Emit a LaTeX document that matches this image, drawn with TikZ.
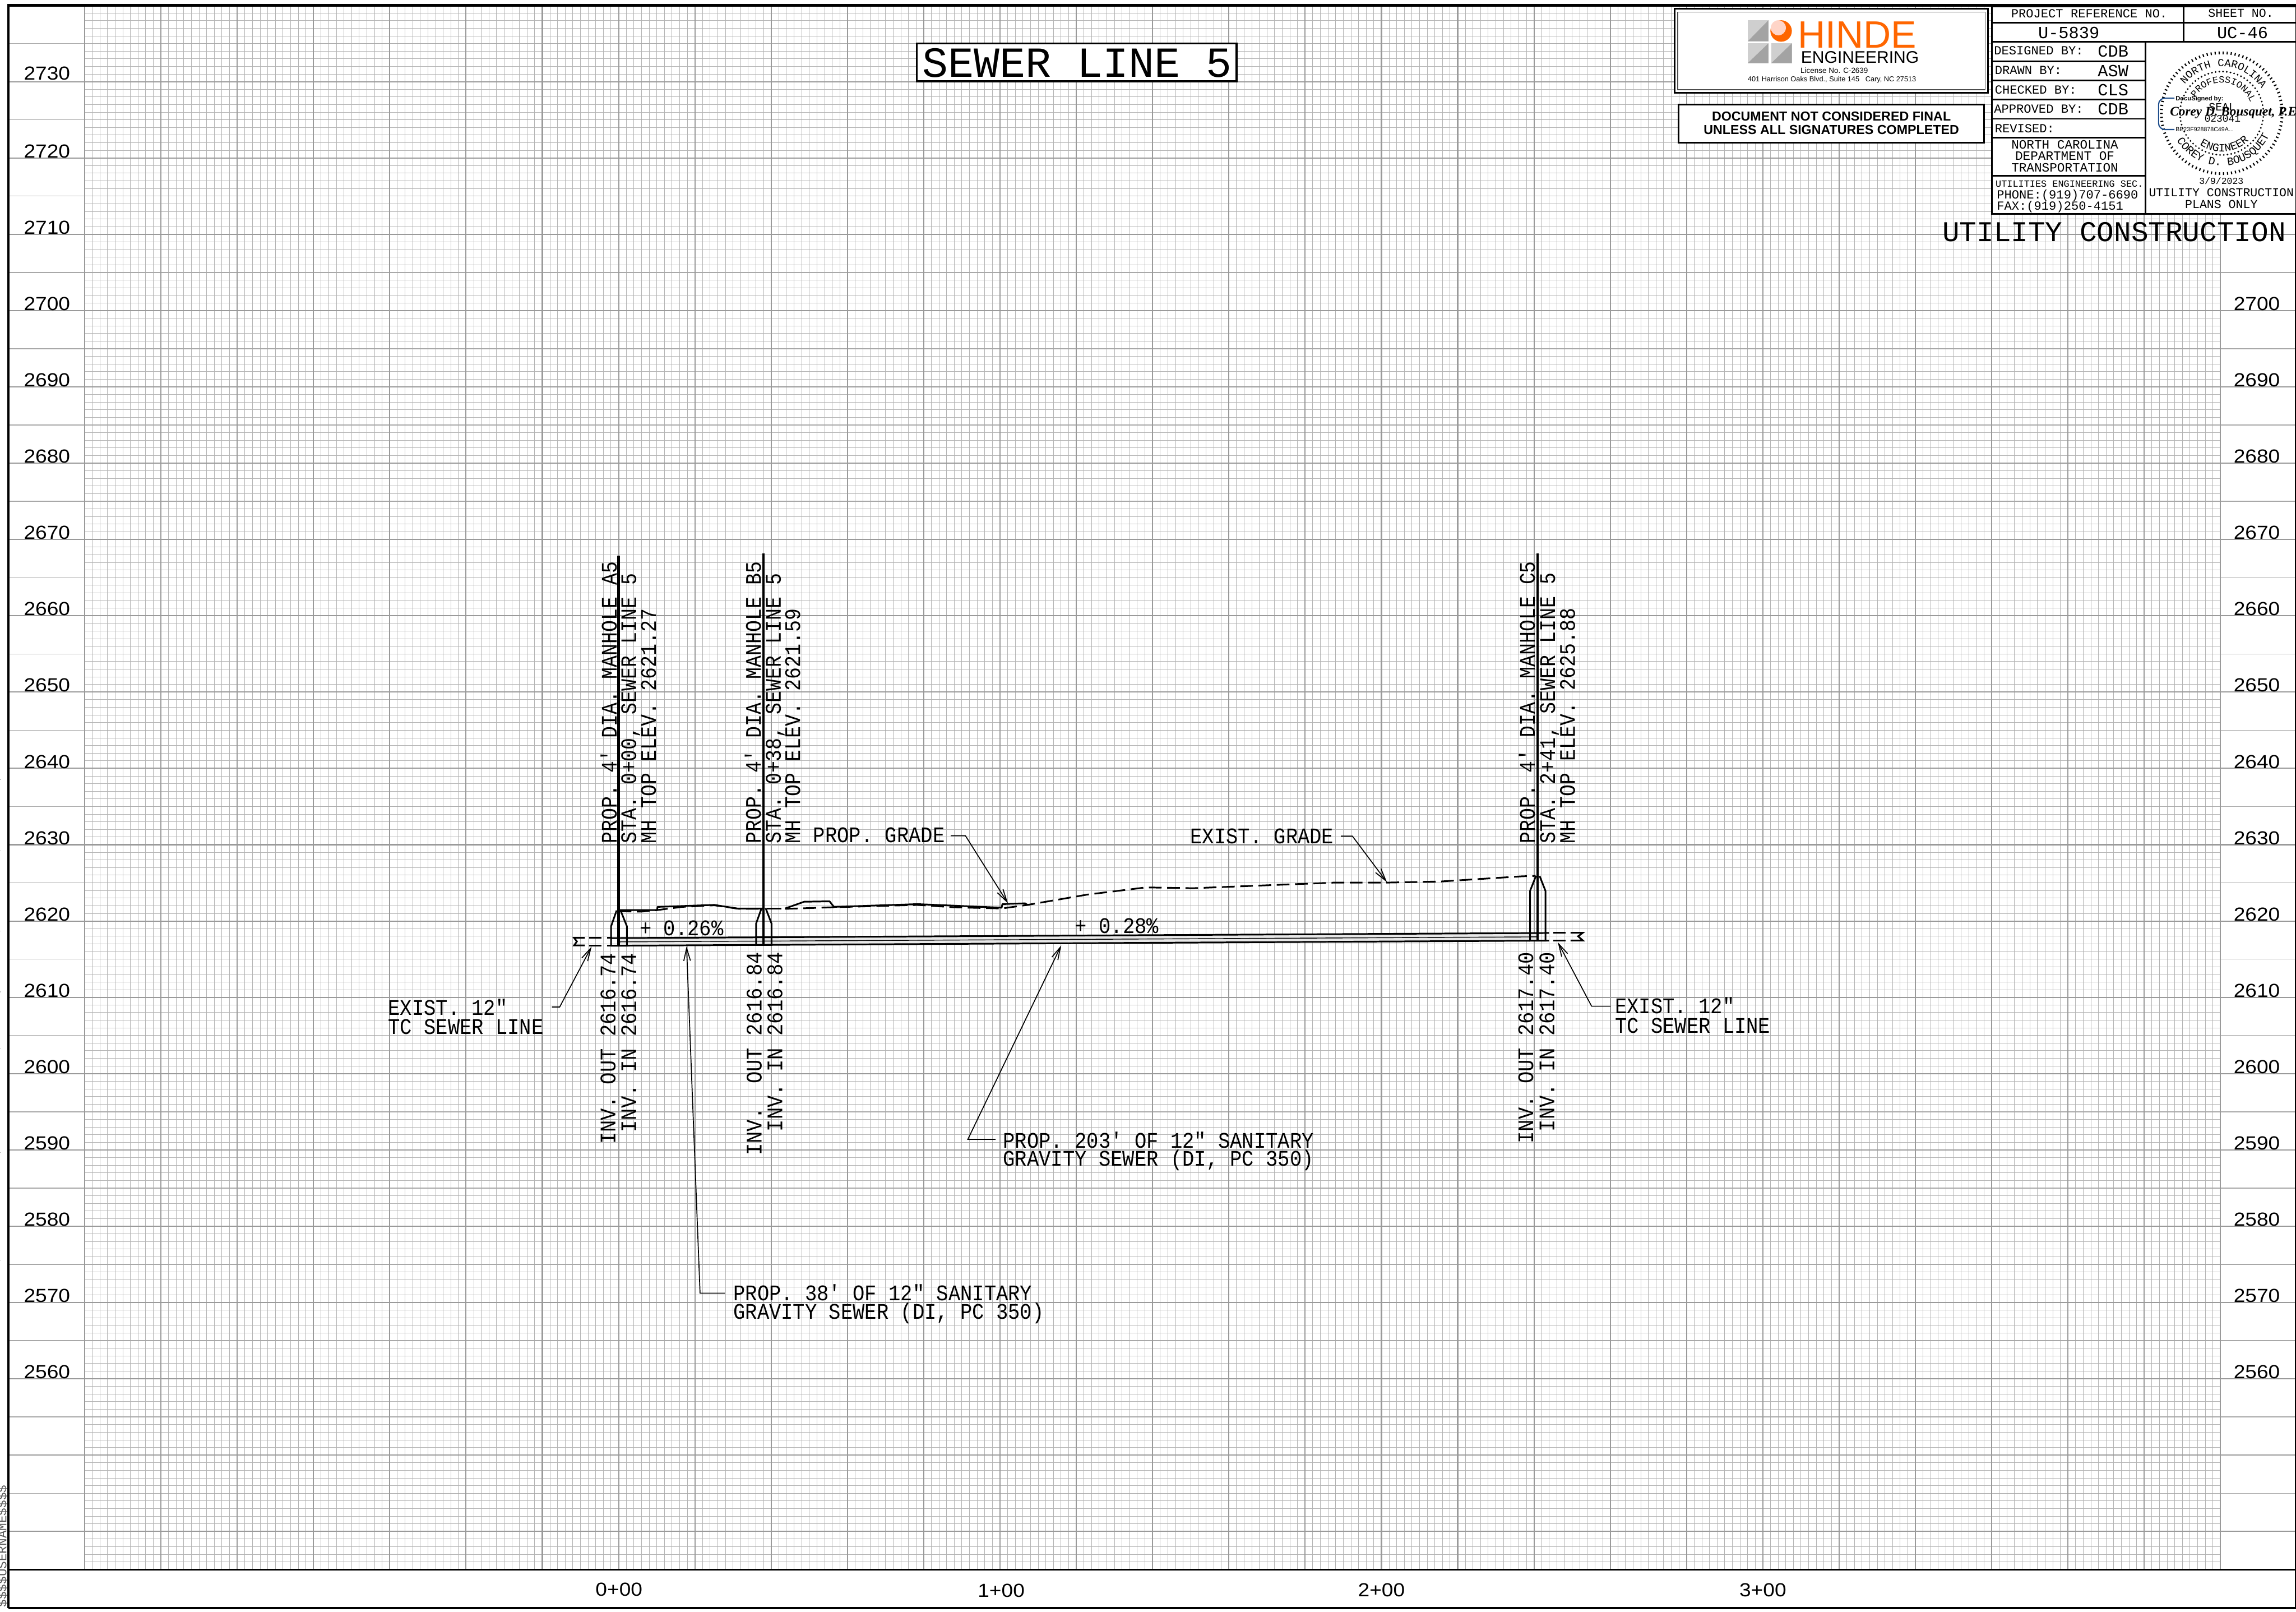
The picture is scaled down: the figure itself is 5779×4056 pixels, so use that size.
\documentclass[tikz,border=0pt]{standalone}
\usepackage{fontspec}
\usetikzlibrary{arrows.meta,decorations.text}
\setmainfont{Liberation Sans}
\newfontfamily\cadw{Liberation Mono}
\newfontfamily\cadn[FakeStretch=0.895]{Liberation Mono}
\newfontfamily\cadv[FakeStretch=0.88]{Liberation Mono}
\newfontfamily\axf[FakeStretch=1.1]{Liberation Sans}
\newfontfamily\arial{Liberation Sans}
\newfontfamily\sigf{Liberation Serif}
\newcommand\fsz[1]{\fontsize{#1}{#1}\selectfont}
\newcommand\lab[5][]{\node[lab,#1] (#2) at (#3,#4) {#5};}
\newcommand\sealA{\cadw\fsz{6.75}}
\newcommand\sealB{\cadw\fsz{6}}
\newcommand\sealC{\cadw\fsz{7}}
\definecolor{gridminor}{HTML}{B4B4B4}
\definecolor{gridmid}{HTML}{A8A8A8}
\definecolor{gridmajor}{HTML}{9A9A9A}
\definecolor{pipefill}{HTML}{E8E8E8}
\definecolor{hindeorange}{HTML}{FF6600}
\definecolor{hindepeach}{HTML}{FFD5C8}
\definecolor{hlight}{HTML}{CFCFCF}
\definecolor{hdark}{HTML}{A3A3A3}
\definecolor{dsblue}{HTML}{1F4E8C}
\tikzset{
  lab/.style={inner sep=0pt,outer sep=0pt,anchor=base west,text=black},
  mid/.style={inner sep=0pt,outer sep=0pt,anchor=base,text=black},
  cadtext/.style={font=\cadn\fsz{14}},
  vcad/.style={font=\cadv\fsz{14},rotate=90},
  vcadend/.style={cadtext,rotate=90,anchor=base east},
  axis/.style={font=\axf\fsz{11.9}},
  tbl/.style={font=\cadw\fsz{7.8}},
  tblval/.style={font=\cadw\fsz{10.7}},
  minorln/.style={draw=gridminor,line width=.33pt},
  midln/.style={draw=gridmid,line width=.5pt},
  majorln/.style={draw=gridmajor,line width=.75pt},
  heavy/.style={line width=1.05pt,draw=black},
  center/.style={line width=1.5pt,draw=black},
  grade/.style={line width=1.05pt,draw=black,dash pattern=on 8pt off 3.5pt},
  gradesolid/.style={line width=1.05pt,draw=black,line join=round},
  leader/.style={line width=.6pt,draw=black,-{Straight Barb[length=8pt,width=4.2pt,line width=.6pt]}},
  rule/.style={line width=1pt,draw=black},
}
\begin{document}
\begin{tikzpicture}[x=.25pt,y=-.25pt]
\useasboundingbox (0,0) rectangle (5779,4056);
\fill[white] (0,0) rectangle (5779,4056);
% grid
\foreach \k in {0,...,280}{\draw[minorln] ({213+19.2*\k},13.5) -- ({213+19.2*\k},3950);}
\foreach \k in {0,...,205}{\draw[minorln] (213,{13.5+19.2*\k}) -- (5589,{13.5+19.2*\k});}
\foreach \k in {0,5,...,205}{\draw[midln] (21,{13.5+19.2*\k}) -- (5777,{13.5+19.2*\k});}
\foreach \k in {10,20,...,200}{\draw[majorln] (21,{13.5+19.2*\k}) -- (5777,{13.5+19.2*\k});}
\foreach \k in {0,10,...,280}{\draw[majorln] ({213+19.2*\k},13.5) -- ({213+19.2*\k},3950);}
% margin specks and frame
\foreach \sy in {1961,2141,2343,2496,2638,2900,3171}{\fill[gridmajor] (0,\sy-1) rectangle (2,\sy+1);}
\lab[rotate=90,font=\cadw\fsz{8},text=black!65]{user}{16}{4044}{\$\$\$\$USERNAME\$\$\$\$}
\fill[white] (24,3952) rectangle (5775,4043);
\draw[line width=1.5pt] (21,4046) -- (21,13.5) -- (5779,13.5);
\draw[line width=.75pt] (5777,13.5) -- (5777,4046);
\draw[line width=1.5pt] (21,4046) -- (5779,4046);
\draw[line width=1.1pt] (21,3950) -- (5777,3950);
% elevation labels
\foreach \e/\yy in {2730/201,2720/397,2710/589,2700/781,2690/973,2680/1165,2670/1357,2660/1549,2650/1741,2640/1933,2630/2125,2620/2317,2610/2509,2600/2701,2590/2893,2580/3085,2570/3277,2560/3469}{
  \lab[axis]{L\e}{60}{\yy}{\e}
}
\foreach \e/\yy in {2700/781,2690/973,2680/1165,2670/1357,2660/1549,2650/1741,2640/1933,2630/2125,2620/2317,2610/2509,2600/2701,2590/2893,2580/3085,2570/3277,2560/3469}{
  \lab[axis]{R\e}{5622}{\yy}{\e}
}
% stations
\foreach \s/\xx/\yy in {0/1558/4016,1/2520/4019,2/3477/4018,3/4437/4018}{
  \node[mid,axis] (sta\s) at (\xx,\yy) {\s+00};
}
% title
\node[lab,fill=white,draw=black,line width=1.15pt,minimum width=201.25pt,minimum height=23.75pt,anchor=north west] (titlebox) at (2307.5,109.5) {};
\lab[font=\cadw\fsz{27}]{title}{2322}{194}{SEWER LINE 5}
% Hinde box
\node[lab,fill=white,draw=black,line width=1pt,minimum width=197pt,minimum height=52.75pt,anchor=north west] (hindeouter) at (4215.5,22) {};
\node[lab,draw=black!70,line width=.5pt,minimum width=193.5pt,minimum height=49pt,anchor=north west] (hindeinner) at (4223,30) {};
\fill[hlight] (4399,51) rectangle (4451,104);
\fill[hdark] (4399,104) -- (4451,51) -- (4451,104) -- cycle;
\fill[hlight] (4399,109) rectangle (4451,159);
\fill[hdark] (4399,159) -- (4451,109) -- (4451,159) -- cycle;
\fill[hlight] (4458,109) rectangle (4510,159);
\fill[hdark] (4458,159) -- (4510,109) -- (4510,159) -- cycle;
\fill[hindeorange] (4483,78) circle[radius=27];
\fill[hindepeach] (4476,70) circle[radius=19];
\lab[font=\arial\fsz{24},text=hindeorange]{hinde}{4525}{120}{HINDE}
\lab[font=\arial\fsz{10.6}]{engineering}{4533}{158.5}{ENGINEERING}
\lab[font=\arial\fsz{4.75}]{license}{4532}{184.5}{License No. C-2639}
\lab[font=\arial\fsz{4.5}]{address}{4399}{205}{401 Harrison Oaks Blvd., Suite 145\ \ \ Cary, NC 27513}
% not final box
\node[lab,fill=white,draw=black,line width=.9pt,minimum width=192.25pt,minimum height=24pt,anchor=north west] (docbox) at (4225,263) {};
\node[mid,font=\arial\bfseries\fsz{8.2}] (doc1) at (4609.5,304) {DOCUMENT NOT CONSIDERED FINAL};
\node[mid,font=\arial\bfseries\fsz{8.2}] (doc2) at (4609.5,337.5) {UNLESS ALL SIGNATURES COMPLETED};
% title table
\fill[white] (5014,17) rectangle (5777,538);
\draw[rule] (5014,17) -- (5777,17);
\draw[rule] (5014,17) -- (5014,538) -- (5777,538);
\draw[rule] (5014,57) -- (5777,57);
\draw[rule] (5014,105) -- (5777,105);
\draw[rule] (5496,17) -- (5496,105);
\draw[rule] (5400,105) -- (5400,538);
\foreach \ry in {154,202,250,299,346,442}{\draw[rule] (5014,\ry) -- (5400,\ry);}
\lab[tbl]{projref}{5062}{45}{PROJECT REFERENCE NO.}
\lab[font=\cadw\fsz{7.6}]{sheetno}{5558}{43}{SHEET NO.}
\lab[tblval]{uref}{5130}{96.7}{U-5839}
\lab[tblval]{uc}{5580}{96.7}{UC-46}
\lab[tbl]{desby}{5019}{137}{DESIGNED BY:}
\lab[tblval]{cdba}{5280}{143.7}{CDB}
\lab[tbl]{drby}{5021}{187}{DRAWN BY:}
\lab[tblval]{asw}{5280}{192}{ASW}
\lab[tbl]{chby}{5021}{236}{CHECKED BY:}
\lab[tblval]{cls}{5280}{240}{CLS}
\lab[tbl]{apby}{5019}{284}{APPROVED BY:}
\lab[tblval]{cdbb}{5280}{288}{CDB}
\lab[tbl]{revd}{5021}{333}{REVISED:}
\node[mid,font=\cadw\fsz{8}] (nc1) at (5197,375) {NORTH CAROLINA};
\node[mid,font=\cadw\fsz{8}] (nc2) at (5197,403) {DEPARTMENT OF};
\node[mid,font=\cadw\fsz{8}] (nc3) at (5197,432) {TRANSPORTATION};
\lab[font=\cadw\fsz{5.95}]{util}{5023}{470}{UTILITIES ENGINEERING SEC.}
\lab[tbl]{phone}{5026}{500}{PHONE:(919)707-6690}
\lab[tbl]{fax}{5026}{529}{FAX:(919)250-4151}
\node[mid,font=\cadw\fsz{5.8}] (sealdate) at (5591,463) {3/9/2023};
\node[mid,font=\cadw\fsz{7.6}] (ucplans1) at (5591,495) {UTILITY CONSTRUCTION};
\node[mid,font=\cadw\fsz{7.6}] (ucplans2) at (5591,524) {PLANS ONLY};
\lab[font=\cadw\fsz{18}]{utilcon}{4889}{608}{UTILITY CONSTRUCTION}
% seal
\draw[line width=1.75pt,dash pattern=on .75pt off 1.78pt] (5592,285) circle[radius=152];
\draw[line width=1.2pt,line cap=round,dash pattern=on 0pt off 2.35pt] (5592,285) circle[radius=105];
\path[decorate,decoration={text along path,text align=center,text={|\sealA|NORTH CAROLINA}}] plot[domain=190:356,samples=50] ({5592+118*cos(\x)},{285+118*sin(\x)});
\path[decorate,decoration={text along path,text align=center,text={|\sealB|PROFESSIONAL}}] plot[domain=185:365,samples=50] ({5592+77*cos(\x)},{285+77*sin(\x)});
\path[decorate,decoration={text along path,text align=center,text={|\sealC|ENGINEER}}] plot[domain=160:10,samples=50] ({5592+97*cos(\x)},{285+97*sin(\x)});
\path[decorate,decoration={text along path,text align=center,text={|\sealC|COREY D. BOUSQUET}}] plot[domain=172:2,samples=50] ({5592+132*cos(\x)},{285+132*sin(\x)});
\node[mid,font=\cadw\fsz{7}] (sealword) at (5593,278) {SEAL};
\node[mid,font=\cadw\fsz{6.3}] (sealnum) at (5594,307) {023041};
\draw[dsblue,line width=.75pt,rounded corners=4pt] (5473,247) -- (5433,247) -- (5433,326) -- (5473,326);
\lab[font=\arial\bfseries\fsz{3.95}]{docu}{5476}{253}{DocuSigned by:}
\lab[font=\arial\fsz{3.75}]{docuid}{5476}{331}{BE23F928878C49A...}
\lab[font=\sigf\itshape\bfseries\fsz{8.2}]{signature}{5462}{292}{Corey D. Bousquet, P.E.}
% pipes
\fill[pipefill] (1557,2360.4) -- (1922,2358.5) -- (3870,2347.8) -- (3870,2367) -- (1922,2377.7) -- (1557,2379.6) -- cycle;
\draw[line width=.5pt] (1557,2370) -- (1922,2368.1) -- (3870,2357.4);
\draw[heavy] (1538,2360.5) -- (1557,2360.4) -- (1922,2358.5) -- (3870,2347.8) -- (3899,2347.6);
\draw[heavy] (1538,2379.6) -- (1557,2379.6) -- (1922,2377.7) -- (3870,2367) -- (3899,2366.8);
% existing sewer stubs
\draw[heavy] (1472,2360) -- (1445,2360) -- (1452,2369) -- (1445,2379) -- (1472,2379);
\draw[heavy] (1483,2360) -- (1514,2360) (1528,2360) -- (1540,2360);
\draw[heavy] (1483,2379) -- (1514,2379) (1528,2379) -- (1540,2379);
\draw[heavy] (3910,2347) -- (3941,2347) (3910,2366.5) -- (3941,2366.5);
\draw[heavy] (3953,2347) -- (3984,2347) -- (3972,2356) -- (3984,2366.5) -- (3953,2366.5);
% grade lines
\draw[gradesolid] (1557,2290) -- (1654,2290) -- (1655,2282) -- (1798,2277) -- (1855,2286) -- (1922,2286)
  (1976,2286) -- (2024,2269) -- (2088,2268) -- (2099,2282) -- (2250,2277) -- (2309,2275) -- (2521,2284) -- (2523,2275) -- (2580,2273) -- (2586,2277);
\draw[grade] (1557,2293) -- (1614,2294) -- (1654,2290) -- (1717,2282) -- (1798,2278) -- (1861,2287) -- (1922,2287);
\draw[heavy] (1930,2287) -- (1967,2287);
\draw[grade] (1976,2287) -- (2096,2283) -- (2309,2277) -- (2401,2283) -- (2521,2286) -- (2586,2277) -- (2737,2251) -- (2884,2233) -- (3003,2235) -- (3356,2221) -- (3486,2221) -- (3627,2218) -- (3706,2213) -- (3832,2205) -- (3865,2204);
% manholes
\draw[heavy,line join=miter] (1552,2291) -- (1538,2331) -- (1538,2379.6) -- (1578,2379.6) -- (1578,2331) -- (1562,2291);
\draw[heavy,line join=miter] (1917,2285) -- (1903,2324) -- (1903,2377.7) -- (1942,2377.7) -- (1942,2324) -- (1927,2285);
\draw[heavy,line join=miter] (3866,2204) -- (3851,2242) -- (3851,2367) -- (3890,2367) -- (3890,2242) -- (3875,2204);
\draw[center] (1557,1398) -- (1557,2379.6);
\draw[center] (1922,1392) -- (1922,2377.7);
\draw[center] (3870,1393) -- (3870,2367);
% manhole labels
\lab[vcad]{a1}{1552}{2123}{PROP. 4′ DIA. MANHOLE A5}
\lab[vcad]{a2}{1601}{2123}{STA. 0+00, SEWER LINE 5}
\lab[vcad]{a3}{1651}{2123}{MH TOP ELEV. 2621.27}
\lab[vcad]{b1}{1915}{2123}{PROP. 4′ DIA. MANHOLE B5}
\lab[vcad]{b2}{1965}{2123}{STA. 0+38, SEWER LINE 5}
\lab[vcad]{b3}{2014}{2123}{MH TOP ELEV. 2621.59}
\lab[vcad]{c1}{3863}{2122}{PROP. 4′ DIA. MANHOLE C5}
\lab[vcad]{c2}{3914}{2122}{STA. 2+41, SEWER LINE 5}
\lab[vcad]{c3}{3964}{2122}{MH TOP ELEV. 2625.88}
% invert labels
\lab[vcadend]{ia1}{1549}{2398}{INV. OUT 2616.74}
\lab[vcadend]{ia2}{1601}{2398}{INV. IN 2616.74}
\lab[vcadend]{ib1}{1917}{2396}{INV.\ \ OUT 2616.84}
\lab[vcadend]{ib2}{1969}{2396}{INV. IN 2616.84}
\lab[vcadend]{ic1}{3859}{2396}{INV. OUT 2617.40}
\lab[vcadend]{ic2}{3912}{2396}{INV. IN 2617.40}
% slopes
\lab[cadtext]{slope1}{1610}{2354}{+ 0.26\%}
\lab[cadtext]{slope2}{2706}{2348}{+ 0.28\%}
% callouts
\lab[cadtext]{exl1}{977}{2554}{EXIST. 12″}
\lab[cadtext]{exl2}{977}{2603}{TC SEWER LINE}
\lab[cadtext]{exr1}{4065}{2550}{EXIST. 12″}
\lab[cadtext]{exr2}{4065}{2599}{TC SEWER LINE}
\lab[cadtext]{p38a}{1846}{3272}{PROP. 38′ OF 12″ SANITARY}
\lab[cadtext]{p38b}{1846}{3319}{GRAVITY SEWER (DI, PC 350)}
\lab[cadtext]{p203a}{2525}{2889}{PROP. 203′ OF 12″ SANITARY}
\lab[cadtext]{p203b}{2525}{2934}{GRAVITY SEWER (DI, PC 350)}
\lab[cadtext]{pgrade}{2047}{2120}{PROP. GRADE}
\lab[cadtext]{egrade}{2996}{2122}{EXIST. GRADE}
% leaders
\coordinate (k1) at (1389,2534); \coordinate (k1b) at (1408.6,2534); \coordinate (t1) at (1489,2382);
\coordinate (k2) at (1824,3254); \coordinate (k2b) at (1762,3254); \coordinate (t2) at (1728,2381);
\coordinate (k3) at (2506,2867); \coordinate (k3b) at (2436,2867); \coordinate (t3) at (2671,2379);
\coordinate (k4) at (4054,2532); \coordinate (k4b) at (4006,2532); \coordinate (t4) at (3921,2371);
\coordinate (k5) at (2393,2103); \coordinate (k5b) at (2430,2103); \coordinate (t5) at (2537,2273);
\coordinate (k6) at (3375,2104); \coordinate (k6b) at (3404,2104); \coordinate (t6) at (3491,2220);
\draw[leader] (k1) -- (k1b) -- (t1);
\draw[leader] (k2) -- (k2b) -- (t2);
\draw[leader] (k3) -- (k3b) -- (t3);
\draw[leader] (k4) -- (k4b) -- (t4);
\draw[leader] (k5) -- (k5b) -- (t5);
\draw[leader] (k6) -- (k6b) -- (t6);
\end{tikzpicture}
\end{document}
